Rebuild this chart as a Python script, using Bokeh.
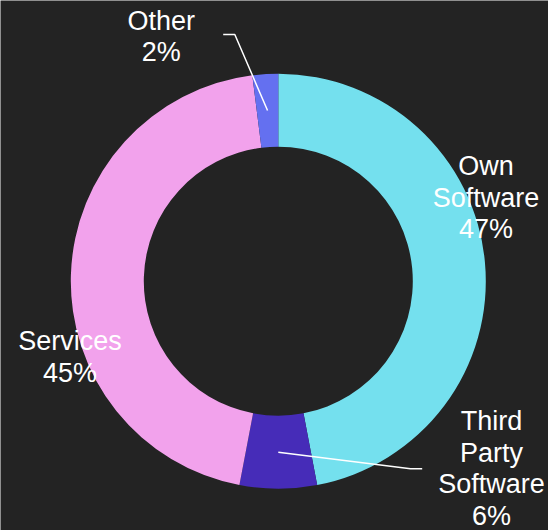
import math
from bokeh.plotting import figure
from bokeh.models import Range1d, ColumnDataSource
from bokeh.core.properties import value
from bokeh.embed import file_html
from bokeh.resources import INLINE

# ---- data ----
categories = ["Own Software", "Third Party Software", "Services", "Other"]
shares = [47, 6, 45, 2]
label_texts = ["Own\nSoftware\n47%", "Third\nParty\nSoftware\n6%", "Services\n45%", "Other\n2%"]
colors = ["#74e0ee", "#462cb8", "#f2a2ec", "#6470f0"]

# ---- layout ----
W, H = 548, 530
BG = "#232323"
CX, CY = 277.8, H - 280.7
R_OUT, R_IN = 207.5, 134.5
FONT = "Liberation Sans"
# label anchor (center x, top y in page pixels)
label_pos = {
    "Own Software": (485.5, 150.5),
    "Third Party Software": (491.0, 405.5),
    "Services": (69.5, 325.5),
    "Other": (160.8, 5.0),
}
# leader elbows / ends in page pixels
leaders = {
    "Other": [(234.3, 34.0), (222.7, 34.0)],
    "Third Party Software": [(410.0, 468.3), (421.7, 468.3)],
}

total = float(sum(shares))
starts, ends, mids = [], [], []
cum = 0.0
for s in shares:
    a0 = math.pi / 2 - 2 * math.pi * cum / total
    cum += s
    a1 = math.pi / 2 - 2 * math.pi * cum / total
    starts.append(a0)
    ends.append(a1)
    mids.append((a0 + a1) / 2)

p = figure(width=W, height=H, output_backend="svg", toolbar_location=None,
           x_range=Range1d(0, W), y_range=Range1d(0, H),
           min_border=0, background_fill_color=BG, border_fill_color=BG,
           outline_line_color=None)
p.axis.visible = False
p.grid.visible = False

src = ColumnDataSource(dict(start=starts, end=ends, color=colors, cat=categories))
p.annular_wedge(x=CX, y=CY, inner_radius=R_IN, outer_radius=R_OUT,
                start_angle="start", end_angle="end", direction="clock",
                fill_color="color", line_color=None, source=src)

# leader lines
r_mid = (R_IN + R_OUT) / 2
for cat, pts in leaders.items():
    i = categories.index(cat)
    x0 = CX + r_mid * math.cos(mids[i])
    y0 = CY + r_mid * math.sin(mids[i])
    xs = [x0] + [px for px, py in pts]
    ys = [y0] + [H - py for px, py in pts]
    p.line(xs, ys, line_color="white", line_width=1.5)

# labels
lx = [label_pos[c][0] for c in categories]
ly = [H - label_pos[c][1] for c in categories]
p.text(x=lx, y=ly, text=label_texts, text_color="white",
       text_font=value(FONT), text_font_size="27px",
       text_align="center", text_baseline="top", text_line_height=1.05)

html = file_html(p, INLINE)
html = html.replace("<body>", '<body style="margin:0;background:%s;">' % BG, 1)
open("out.html", "w").write(html)
